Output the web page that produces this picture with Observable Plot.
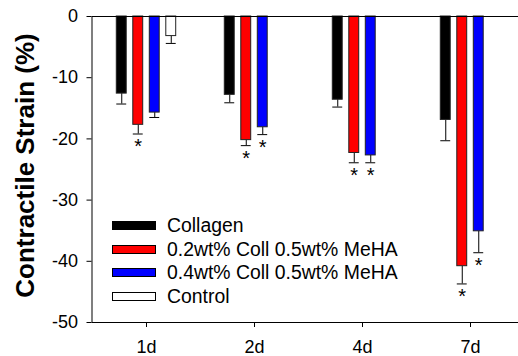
<!DOCTYPE html>
<html>
<head>
<meta charset="utf-8">
<script src="https://cdn.jsdelivr.net/npm/d3@7"></script>
<script src="https://cdn.jsdelivr.net/npm/@observablehq/plot@0.6"></script>
<style>
  body { margin: 0; background: white; }
  #wrap { position: relative; width: 518px; height: 356px; font-family: "Liberation Sans", Arial, sans-serif; }
  #legend { position: absolute; left: 112px; top: 213.7px; font-size: 19.4px; color: #000; }
  .row { display: flex; align-items: center; height: 23.6px; }
  .sw { width: 42px; height: 7px; border: 1px solid #000; margin-right: 11px; }
</style>
</head>
<body>
<div id="wrap"></div>
<script>
const days = ["1d", "2d", "4d", "7d"];
const series = ["Collagen", "0.2wt% Coll 0.5wt% MeHA", "0.4wt% Coll 0.5wt% MeHA", "Control"];
const colors = ["#000000", "#ff0000", "#0000ff", "#ffffff"];
const collagen = [-12.6, -12.8, -13.6, -16.9];
const coll02 = [-17.7, -20.2, -22.3, -40.8];
const coll04 = [-15.7, -18.1, -22.7, -35.1];
const control = [-3.2, null, null, null];
const errCollagen = [1.7, 1.3, 1.2, 3.4];
const err02 = [1.5, 0.9, 1.6, 2.9];
const err04 = [0.8, 1.2, 1.2, 3.5];
const errControl = [1.2, null, null, null];
const sigCollagen = [false, false, false, false];
const sig02 = [true, true, true, true];
const sig04 = [false, true, true, true];
const sigControl = [false, false, false, false];
const yTicks = [0, -10, -20, -30, -40, -50];

const values = [collagen, coll02, coll04, control];
const errs = [errCollagen, err02, err04, errControl];
const sigs = [sigCollagen, sig02, sig04, sigControl];

const rows = [];
series.forEach((s, si) => days.forEach((d, di) => {
  if (values[si][di] != null) rows.push({day: d, series: s, si, value: values[si][di], err: errs[si][di], sig: sigs[si][di]});
}));

const xRange = [91.5, 525];
const band = (xRange[1] - xRange[0]) / days.length;
const inner = d3.scaleBand().domain(series).range([-33, 33]).paddingInner(0.376).paddingOuter(0.188);
const barW = inner.bandwidth();
const inset = (band - barW) / 2;
const off = s => inner(s) + barW / 2;

const marks = [];
series.forEach((s, si) => {
  const data = rows.filter(r => r.series === s);
  marks.push(Plot.ruleX(data, {x: "day", y1: "value", y2: d => d.value - d.err, dx: off(s), stroke: "black", strokeWidth: 1}));
  marks.push(Plot.tickY(data, {x: "day", y: d => d.value - d.err, dx: off(s), insetLeft: inset, insetRight: inset, stroke: "black", strokeWidth: 1}));
  marks.push(Plot.barY(data, {x: "day", y1: 0, y2: "value", dx: off(s), insetLeft: inset, insetRight: inset, fill: colors[si], stroke: "#222", strokeWidth: 1}));
  marks.push(Plot.text(data.filter(d => d.sig), {x: "day", y: d => d.value - d.err, text: () => "*", dx: off(s), dy: 5, lineAnchor: "top", fontSize: 20, fill: "black"}));
});

const chart = Plot.plot({
  width: 518,
  height: 356,
  marginLeft: 91.5,
  marginRight: -2,
  marginTop: 16,
  marginBottom: 34,
  style: {fontFamily: "Liberation Sans, Arial, sans-serif", background: "white", color: "black"},
  x: {domain: days, range: xRange, padding: 0},
  y: {domain: [-50, 0], range: [322, 16]},
  marks: [
    Plot.axisX({tickSize: 5, tickPadding: 13, fontSize: 18, label: null, stroke: "black"}),
    Plot.axisY({ticks: yTicks, tickFormat: d => String(d), tickSize: 5, tickPadding: 9, fontSize: 18, label: null}),
    ...marks,
    Plot.frame({stroke: "black", strokeWidth: 1}),
    Plot.text(["Contractile Strain (%)"], {frameAnchor: "left", rotate: -90, dx: -66, dy: -4, textAnchor: "middle", lineAnchor: "middle", fontSize: 26, fontWeight: "bold", fill: "black"})
  ]
});

const wrap = document.getElementById("wrap");
wrap.appendChild(chart);
const legend = document.createElement("div");
legend.id = "legend";
series.forEach((s, si) => {
  const row = document.createElement("div");
  row.className = "row";
  const sw = document.createElement("div");
  sw.className = "sw";
  sw.style.background = colors[si];
  const t = document.createElement("span");
  t.textContent = s;
  row.appendChild(sw);
  row.appendChild(t);
  legend.appendChild(row);
});
wrap.appendChild(legend);
</script>
</body>
</html>
